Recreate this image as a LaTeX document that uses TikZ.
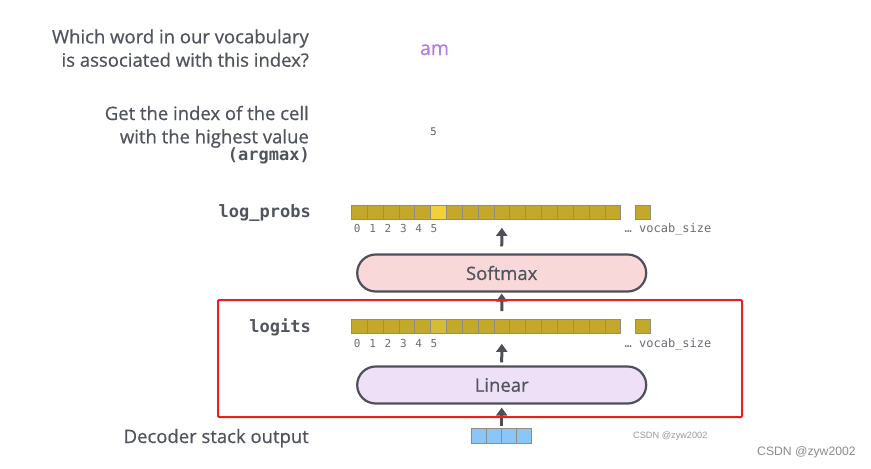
\documentclass[tikz,border=0pt]{standalone}
\usepackage{fontspec}
\setmainfont{Open Sans}[FakeBold=0.6]
\newfontfamily\monof{DejaVu Sans Mono}
\newfontfamily\wmf{Liberation Sans}
\usetikzlibrary{arrows.meta}
\definecolor{txt}{HTML}{50545D}
\definecolor{edge}{HTML}{4D5059}
\definecolor{gold}{HTML}{C4A82C}
\definecolor{goldhi}{HTML}{F2D03A}
\definecolor{goldmid}{HTML}{D6BA3A}
\definecolor{cellline}{HTML}{8E8E86}
\definecolor{pinkfill}{HTML}{F8D8D8}
\definecolor{lavfill}{HTML}{EEE0F6}
\definecolor{bluecell}{HTML}{8CC6F7}
\definecolor{purp}{HTML}{B57EDC}
\definecolor{redbox}{HTML}{E8201E}
\definecolor{wmgray}{HTML}{9A9A9A}
\tikzset{
  lbl/.style={font=\fontsize{18.5}{20}\selectfont, text=txt, inner sep=0pt},
  monolbl/.style={font=\monof\bfseries\fontsize{17}{19}\selectfont, text=txt, inner sep=0pt},
  idx/.style={font=\monof\fontsize{11}{12}\selectfont, text=txt!85, inner sep=0pt},
  cell/.style={draw=cellline, line width=0.7pt, minimum width=15.85pt, minimum height=14pt, inner sep=0pt},
  dcell/.style={draw=cellline, line width=0.7pt, minimum width=15pt, minimum height=15pt, inner sep=0pt, fill=bluecell},
  pill/.style={draw=edge, line width=2.2pt, minimum width=289pt, minimum height=37pt, rounded corners=18.5pt, font=\fontsize{18.5}{20}\selectfont, text=txt},
  arr/.style={draw=edge, line width=3pt, -{Triangle[width=11pt,length=8pt]}},
  wm/.style={font=\wmf, text=wmgray, inner sep=0pt}
}
\begin{document}
\begin{tikzpicture}[x=1pt,y=-1pt]
\useasboundingbox[fill=white] (0,0) rectangle (871,469);

% top texts
\node[lbl, anchor=base east] (q1) at (309,43.3) {Which word in our vocabulary};
\node[lbl, anchor=base east] (q2) at (309,66.7) {is associated with this index?};
\node[font=\fontsize{19.5}{21}\selectfont, text=purp, inner sep=0pt, anchor=base] (am) at (434.5,55) {am};

\node[lbl, anchor=base east] (g1) at (309,120) {Get the index of the cell};
\node[lbl, anchor=base east] (g2) at (309,143.3) {with the highest value};
\node[monolbl, anchor=base east] (g3) at (310,160.5) {(argmax)};
\node[font=\monof\fontsize{10.5}{12}\selectfont, text=txt, inner sep=0pt, anchor=base] (five) at (433.5,135) {5};

% log_probs row
\node[monolbl, anchor=base east] (lplbl) at (311,217.7) {log\_probs};
\foreach \i in {0,...,16}{
  \ifnum\i=5 \def\cc{goldhi}\else\def\cc{gold}\fi
  \node[cell, fill=\cc] (lp\i) at ({351.3+15.85*(\i+0.5)},212) {};
}
\node[cell, fill=gold, minimum width=14.5pt] (lpx) at (643,212) {};
\foreach \i in {0,...,5}{
  \node[idx, anchor=base] (lpd\i) at ({357.3+15.35*\i},232.7) {\i};
}
\node[idx, font=\monof\fontsize{12}{13}\selectfont, anchor=base west] (lpv) at (624.5,232.7) {… vocab\_size};

% softmax
\node[pill, fill=pinkfill] (softmax) at (501.7,273) {Softmax};

% logits row
\node[monolbl, anchor=base east] (lglbl) at (311,332.7) {logits};
\foreach \i in {0,...,16}{
  \ifnum\i=5 \def\cc{goldmid}\else\def\cc{gold}\fi
  \node[cell, fill=\cc] (lg\i) at ({351.3+15.85*(\i+0.5)},326.5) {};
}
\node[cell, fill=gold, minimum width=14.5pt] (lgx) at (643,326.5) {};
\foreach \i in {0,...,5}{
  \node[idx, anchor=base] (lgd\i) at ({357.3+15.35*\i},347.5) {\i};
}
\node[idx, font=\monof\fontsize{12}{13}\selectfont, anchor=base west] (lgv) at (624.5,347.5) {… vocab\_size};

% linear
\node[pill, fill=lavfill] (linear) at (501.7,385) {Linear};

% decoder output
\node[lbl, anchor=base east] (declbl) at (309,443) {Decoder stack output};
\foreach \i in {0,...,3}{
  \node[dcell] (dc\i) at ({471.7+15*(\i+0.5)},435.5) {};
}
\coordinate (dtop) at (501.7,428);

% arrows
\draw[arr, shorten <=7pt, shorten >=8.5pt] (softmax.north) -- (lp9.south);
\draw[arr, shorten <=8pt, shorten >=1pt] (lg9.north) -- (softmax.south);
\draw[arr, shorten <=3pt, shorten >=10pt] (linear.north) -- (lg9.south);
\draw[arr, shorten <=2pt, shorten >=3pt] (dtop) -- (linear.south);

% red highlight
\node[draw=redbox, line width=2pt, minimum width=524pt, minimum height=117pt, inner sep=0pt, rounded corners=1pt] (redrect) at (480,358.5) {};

% watermarks
\node[wm, font=\wmf\fontsize{9.2}{10}\selectfont, anchor=west] (wm1) at (633,436) {CSDN @zyw2002};
\node[wm, font=\wmf\fontsize{12.2}{13}\selectfont, anchor=west, text=wmgray!90!black] (wm2) at (757,452) {CSDN @zyw2002};
\end{tikzpicture}
\end{document}
